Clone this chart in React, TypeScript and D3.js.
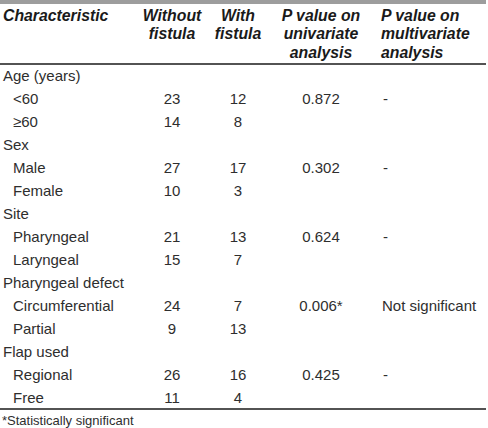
import React from "react";
import * as d3 from "d3";

const groups = ["Age (years)", "Sex", "Site", "Pharyngeal defect", "Flap used"];
const subgroups = [
  ["<60", "≥60"],
  ["Male", "Female"],
  ["Pharyngeal", "Laryngeal"],
  ["Circumferential", "Partial"],
  ["Regional", "Free"],
];
const withoutFistula = [[23, 14], [27, 10], [21, 15], [24, 9], [26, 11]];
const withFistula = [[12, 8], [17, 3], [13, 7], [7, 13], [16, 4]];
const pUnivariate = ["0.872", "0.302", "0.624", "0.006*", "0.425"];
const pMultivariate = ["-", "-", "-", "Not significant", "-"];
const headers = [
  ["Characteristic"],
  ["Without", "fistula"],
  ["With", "fistula"],
  ["P value on", "univariate", "analysis"],
  ["P value on", "multivariate", "analysis"],
];
const footnote = "*Statistically significant";

const W = 488;
const H = 428;
const FONT = "'Liberation Sans', Arial, Helvetica, sans-serif";

type Row = { kind: "group" | "sub"; label: string; g: number; s: number };

export default function App() {
  const rows: Row[] = [];
  groups.forEach((g, gi) => {
    rows.push({ kind: "group", label: g, g: gi, s: -1 });
    subgroups[gi].forEach((s, si) => rows.push({ kind: "sub", label: s, g: gi, s: si }));
  });

  const top = 64;
  const rowH = 23;
  const y = d3
    .scaleBand<number>()
    .domain(d3.range(rows.length))
    .range([top, top + rowH * rows.length]);
  const bottom = top + rowH * rows.length;

  const colX = [3, 172, 238, 321, 381];
  const colAnchor = ["start", "middle", "middle", "middle", "start"];
  const headerY = [15, 33.5, 52];

  const textColor = "#2e2e2e";

  return (
    <svg
      width={W}
      height={H}
      style={{ position: "absolute", left: 0, top: 0, background: "#fff" }}
      fontFamily={FONT}
    >
      <rect x={0} y={0} width={486} height={4} fill="#9d9d9d" />
      {headers.map((lines, ci) =>
        lines.map((ln, li) => (
          <text
            key={`h${ci}-${li}`}
            x={colX[ci]}
            y={headerY[li]}
            textAnchor={colAnchor[ci] as any}
            dominantBaseline="central"
            fontSize={15.8}
            fontWeight="bold"
            fontStyle="italic"
            fill="#1a1a1a"
          >
            {ln}
          </text>
        ))
      )}
      <line x1={0} x2={486} y1={top} y2={top} stroke="#1a1a1a" strokeWidth={1.6} />
      {rows.map((r, i) => {
        const cy = (y(i) as number) + y.bandwidth() / 2;
        const els: React.ReactNode[] = [];
        els.push(
          <text
            key="l"
            x={r.kind === "group" ? 3 : 13}
            y={cy}
            dominantBaseline="central"
            fontSize={15}
            fill={textColor}
          >
            {r.label}
          </text>
        );
        if (r.kind === "sub") {
          els.push(
            <text key="a" x={colX[1]} y={cy} textAnchor="middle" dominantBaseline="central" fontSize={15} fill={textColor}>
              {withoutFistula[r.g][r.s]}
            </text>,
            <text key="b" x={colX[2]} y={cy} textAnchor="middle" dominantBaseline="central" fontSize={15} fill={textColor}>
              {withFistula[r.g][r.s]}
            </text>
          );
          if (r.s === 0) {
            els.push(
              <text key="c" x={colX[3]} y={cy} textAnchor="middle" dominantBaseline="central" fontSize={15} fill={textColor}>
                {pUnivariate[r.g]}
              </text>,
              <text key="d" x={pMultivariate[r.g] === "-" ? 383 : 382} y={cy} dominantBaseline="central" fontSize={15} fill={textColor}>
                {pMultivariate[r.g]}
              </text>
            );
          }
        }
        return <g key={i}>{els}</g>;
      })}
      <line x1={0} x2={486} y1={bottom} y2={bottom} stroke="#1a1a1a" strokeWidth={1.6} />
      <text x={2} y={420} dominantBaseline="central" fontSize={13} fill={textColor}>
        {footnote}
      </text>
    </svg>
  );
}
